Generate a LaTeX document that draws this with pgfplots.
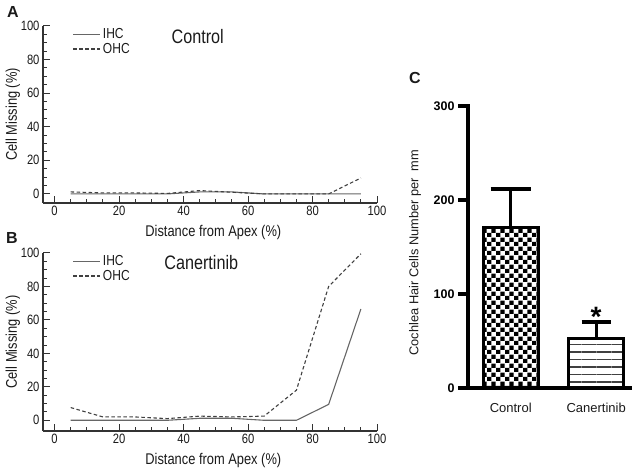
\documentclass[border=0pt]{standalone}
\usepackage{pgfplots}
\pgfplotsset{compat=1.18}
\usepackage{fontspec}
\setmainfont{Liberation Sans}
\newfontfamily\abfont[FakeStretch=0.83]{Liberation Sans}
\usetikzlibrary{patterns,patterns.meta}
\definecolor{axgray}{HTML}{333333}
\definecolor{txtgray}{HTML}{1A1A1A}
\definecolor{ihcgray}{HTML}{666666}
\definecolor{ohcgray}{HTML}{404040}

\tikzdeclarepattern{
  name=bigcheck,
  type=uncolored,
  bounding box={(0pt,0pt) and (9.2pt,9.2pt)},
  tile size={(9.2pt,9.2pt)},
  code={
    \fill (0pt,0pt) rectangle (4.6pt,4.6pt);
    \fill (4.6pt,4.6pt) rectangle (9.2pt,9.2pt);
  }
}

\pgfplotsset{
  abstyle/.style={
    scale only axis, width=334pt,
    xmin=-3.6, xmax=100, ymax=100,
    axis x line=bottom, axis y line=left,
    axis line style={-, line width=1.1pt, color=axgray},
    xtick={0,20,...,100}, ytick={0,20,...,100},
    minor tick num=3,
    tick align=inside,
    major tick length=7pt, minor tick length=4pt,
    tick style={line width=1pt, color=axgray},
    tick label style={font=\abfont\fontsize{13.5}{13.5}\selectfont, text=txtgray},
    /pgf/number format/assume math mode=true,
    xlabel={Distance from Apex (\%)},
    ylabel={Cell Missing (\%)},
    label style={font=\abfont\fontsize{15.5}{15.5}\selectfont, text=txtgray},
    xlabel style={at={(axis description cs:0.51,0)}, anchor=center, yshift=-29pt},
    ylabel style={at={(axis description cs:-0.09,0.5)}, anchor=center},
    legend image code/.code={\draw[##1] (0pt,0pt) -- (27pt,0pt);},
    legend cell align=left,
    legend style={draw=none, fill=none, font=\abfont\fontsize{14.5}{14.5}\selectfont,
      text=txtgray, anchor=north west, inner sep=0pt, row sep=0pt,
      nodes={inner xsep=2pt, inner ysep=1.5pt}},
  },
  ihc/.style={color=ihcgray, line width=1.1pt},
  ohc/.style={color=ohcgray, line width=1.1pt, dash pattern=on 3.5pt off 2.5pt},
}

\begin{document}
\begin{tikzpicture}
\useasboundingbox (0,0) rectangle (632pt,472pt);

% Panel A
\begin{axis}[abstyle, at={(43pt,269pt)}, anchor=south west, height=177pt, ymin=-5.4,
  legend style={at={(axis cs:5.6,99.5)}}]
\addplot[ihc] coordinates {(5,0)(15,0)(25,0)(35,0)(45,1.2)(55,1.2)(65,0)(75,0)(85,0)(95,0)};
\addlegendentry{IHC}
\addplot[ohc] coordinates {(5,1.2)(15,0.6)(25,0.6)(35,0.3)(45,2)(55,1)(65,0)(75,0)(85,0)(95,9.5)};
\addlegendentry{OHC}
\node[font=\abfont\fontsize{19.5}{19.5}\selectfont, text=txtgray] at (axis cs:44.4,94) {Control};
\end{axis}

% Panel B
\begin{axis}[abstyle, at={(43pt,41pt)}, anchor=south west, height=178pt, ymin=-6.4,
  legend style={at={(axis cs:5.6,99.5)}}]
\addplot[ihc] coordinates {(5,0)(15,0)(25,0)(35,0)(45,1.2)(55,1.2)(65,0)(75,0)(85,9.5)(95,66.5)};
\addlegendentry{IHC}
\addplot[ohc] coordinates {(5,7.6)(15,2)(25,2)(35,1)(45,2.5)(55,2)(65,2.5)(75,18)(85,80)(95,99.5)};
\addlegendentry{OHC}
\node[font=\abfont\fontsize{19.5}{19.5}\selectfont, text=txtgray] at (axis cs:45.5,94.6) {Canertinib};
\end{axis}

% Panel C
\begin{axis}[at={(468pt,84pt)}, anchor=south west, scale only axis, width=164pt, height=282pt,
  xmin=-0.5, xmax=1.42, ymin=0, ymax=300,
  axis x line=bottom, axis y line=left,
  axis line style={-, line width=4pt, black, line cap=rect},
  ytick={0,100,200,300}, xtick={0,1}, xticklabels={Control,Canertinib},
  tick align=outside, major tick length=10pt, minor tick num=0,
  y tick style={line width=3.5pt, black}, x tick style={draw=none},
  yticklabel style={font=\bfseries\fontsize{12.5}{12.5}\selectfont},
  xticklabel style={font=\fontsize{13}{13}\selectfont, yshift=-2pt, text=txtgray},
  /pgf/number format/assume math mode=true,
  ylabel={Cochlea Hair Cells Number per\ \ mm},
  ylabel style={font=\fontsize{12.8}{12.8}\selectfont, text=txtgray,
    at={(axis description cs:-0.323,0.48)}, anchor=center},
  clip=false]
\addplot[ybar, bar width=55pt, bar shift=0pt, draw=black, line width=3pt,
  pattern=bigcheck, pattern color=black,
  error bars/.cd, y dir=plus, y explicit,
  error bar style={line width=3pt, black},
  error mark options={rotate=90, mark size=20pt, line width=4pt, black}]
  coordinates {(0,171) +- (0,41)};
\addplot[ybar, bar width=55pt, bar shift=0pt, draw=black, line width=3pt,
  pattern={Lines[distance=7.5pt, angle=0, line width=1.4pt]}, pattern color=black!75,
  error bars/.cd, y dir=plus, y explicit,
  error bar style={line width=3pt, black},
  error mark options={rotate=90, mark size=14.5pt, line width=4pt, black}]
  coordinates {(1,53) +- (0,17)};
\node[font=\bfseries\fontsize{28}{28}\selectfont, anchor=base] at (axis cs:1,65) {*};
\end{axis}

\node[font=\bfseries\fontsize{16}{16}\selectfont, text=txtgray] at (13pt,460pt) {A};
\node[font=\bfseries\fontsize{16}{16}\selectfont, text=txtgray] at (12pt,234pt) {B};
\node[font=\bfseries\fontsize{16}{16}\selectfont, text=txtgray] at (415pt,394pt) {C};
\end{tikzpicture}
\end{document}
